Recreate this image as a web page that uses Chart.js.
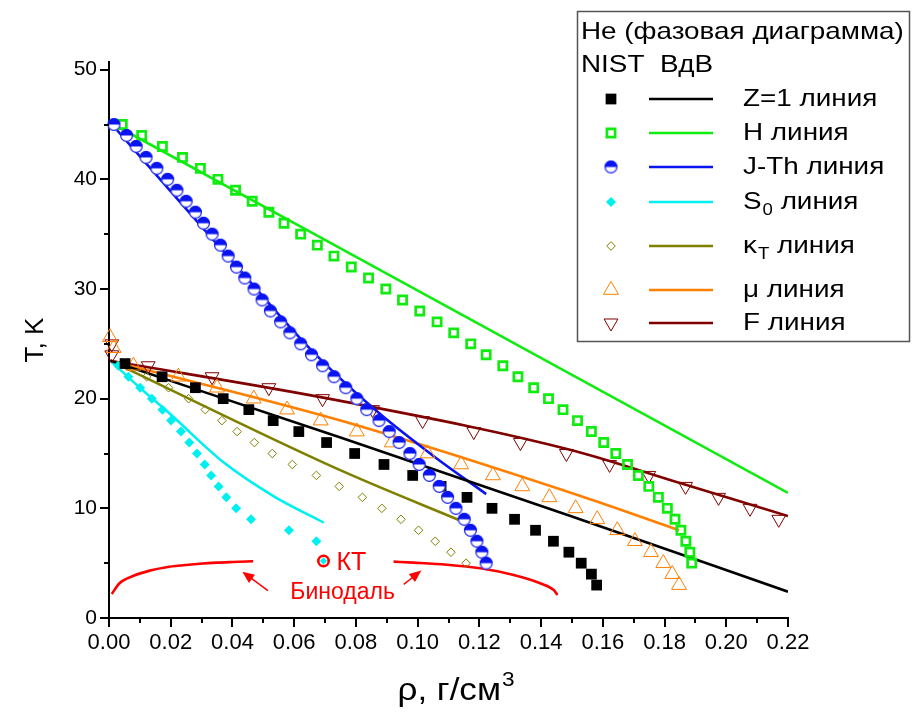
<!DOCTYPE html>
<html>
<head>
<meta charset="utf-8">
<script src="https://cdn.jsdelivr.net/npm/chart.js@4.4.1/dist/chart.umd.min.js"></script>
<style>
  html, body { margin: 0; padding: 0; background: #fff; }
  #wrap { width: 914px; height: 718px; }
</style>
</head>
<body>
<div id="wrap"><canvas id="chartFase" width="914" height="718"></canvas></div>
<script>
// He phase diagram: NIST points vs van der Waals lines
// rho in g/cm3, T in K

// Z=1 line
const z1Rho = [0.0052, 0.0172, 0.028, 0.037, 0.0453, 0.0532, 0.0615, 0.0705, 0.0796, 0.0891, 0.0984, 0.1076, 0.116, 0.1241, 0.1314, 0.1382, 0.144, 0.149, 0.153, 0.1563, 0.158];
const z1T = [23.2, 22, 21, 20, 19, 18, 17, 16, 15, 14, 13, 12, 11, 10, 9, 8, 7, 6, 5, 4, 3];
const z1LineRho = [0.0005, 0.075, 0.15, 0.22];
const z1LineT = [23.45, 16.45, 9.25, 2.4];

// H line
const hRho = [0.0043, 0.0106, 0.0173, 0.0238, 0.0296, 0.0353, 0.041, 0.0464, 0.0518, 0.0567, 0.0621, 0.0675, 0.0729, 0.0785, 0.0841, 0.0897, 0.0951, 0.1007, 0.1063, 0.1117, 0.1172, 0.1222, 0.1276, 0.1325, 0.1376, 0.1424, 0.1471, 0.1518, 0.1563, 0.1603, 0.1642, 0.168, 0.1715, 0.1749, 0.178, 0.1809, 0.1834, 0.1853, 0.1869, 0.1882, 0.1888];
const hT = [45, 44, 43, 42, 41, 40, 39, 38, 37, 36, 35, 34, 33, 32, 31, 30, 29, 28, 27, 26, 25, 24, 23, 22, 21, 20, 19, 18, 17, 16, 15, 14, 13, 12, 11, 10, 9, 8, 7, 6, 5];
const hLineRho = [0.0015, 0.22];
const hLineT = [45, 11.4];

// J-Th line
const jtRho = [0.0016, 0.0057, 0.0088, 0.012, 0.0155, 0.019, 0.022, 0.025, 0.028, 0.0306, 0.0334, 0.0361, 0.0386, 0.0413, 0.044, 0.047, 0.0496, 0.0523, 0.0556, 0.0586, 0.0621, 0.0656, 0.0692, 0.0729, 0.0767, 0.0803, 0.0835, 0.0875, 0.0908, 0.094, 0.0975, 0.1005, 0.1038, 0.107, 0.1097, 0.1124, 0.1151, 0.1171, 0.1192, 0.1208, 0.1222];
const jtT = [45, 44, 43, 42, 41, 40, 39, 38, 37, 36, 35, 34, 33, 32, 31, 30, 29, 28, 27, 26, 25, 24, 23, 22, 21, 20, 19, 18, 17, 16, 15, 14, 13, 12, 11, 10, 9, 8, 7, 6, 5];
const jtLineRho = [0.001, 0.02, 0.04, 0.0653, 0.087, 0.105, 0.1222];
const jtLineT = [45, 38.9, 32.5, 24.5, 18.8, 14.8, 11.3];

// S0 line
const s0Rho = [0.003, 0.0063, 0.0101, 0.0139, 0.0173, 0.0201, 0.0233, 0.026, 0.0285, 0.031, 0.0331, 0.0355, 0.038, 0.0412, 0.046, 0.0583, 0.0672];
const s0T = [23, 22, 21, 20, 19, 18, 17, 16, 15, 14, 13, 12, 11, 10, 9, 8, 7];
const s0LineRho = [0.0005, 0.01, 0.0198, 0.0371, 0.0534, 0.0696];
const s0LineT = [23.45, 21.0, 18.6, 14.2, 11.1, 8.7];

// kappa_T line
const kRho = [0.0058, 0.0122, 0.0193, 0.0258, 0.0312, 0.0366, 0.0415, 0.0471, 0.0529, 0.0594, 0.0672, 0.0746, 0.0821, 0.0884, 0.0946, 0.1003, 0.1057, 0.1108, 0.1157];
const kT = [23, 22, 21, 20, 19, 18, 17, 16, 15, 14, 13, 12, 11, 10, 9, 8, 7, 6, 5];
const kLineRho = [0.0005, 0.0751, 0.1157];
const kLineT = [23.45, 13.46, 8.67];

// mu line
const muRho = [0.0003, 0.0015, 0.0079, 0.0225, 0.035, 0.0469, 0.0577, 0.0686, 0.0803, 0.0916, 0.1032, 0.1141, 0.1244, 0.1339, 0.1427, 0.1512, 0.1582, 0.1647, 0.1704, 0.1756, 0.1796, 0.1825, 0.1847];
const muT = [25.6, 24.6, 23, 22, 21, 20, 19, 18, 17, 16, 15, 14, 13, 12, 11, 10, 9, 8, 7, 6, 5, 4, 3];
const muLineRho = [0.0005, 0.075, 0.153, 0.1847];
const muLineT = [23.45, 18.0, 11.1, 8.0];

// F line
const fRho = [0.0009, 0.0009, 0.0127, 0.0334, 0.0518, 0.0692, 0.0854, 0.1016, 0.1182, 0.1333, 0.1482, 0.1622, 0.1749, 0.1868, 0.1975, 0.2077, 0.217];
const fT = [25, 24, 23, 22, 21, 20, 19, 18, 17, 16, 15, 14, 13, 12, 11, 10, 9];
const fLineRho = [0.0005, 0.075, 0.15, 0.185, 0.22];
const fLineT = [23.45, 19.8, 15.3, 12.3, 9.3];

// binodal (two branches) and critical point
const binLeftRho = [0.0009, 0.0034, 0.0078, 0.0132, 0.0186, 0.024, 0.0294, 0.0348, 0.0402, 0.0467];
const binLeftT = [2.19, 3.17, 3.83, 4.32, 4.63, 4.81, 4.95, 5.05, 5.11, 5.17];
const binRightRho = [0.0922, 0.0987, 0.1095, 0.1203, 0.1311, 0.1397, 0.1441, 0.1453];
const binRightT = [5.14, 5.05, 4.86, 4.53, 3.92, 3.17, 2.55, 2.1];
const ktRho = [0.0695];
const ktT = [5.2];

// axis ticks
const xTickStep = 0.01;
const yTickStep = 5;

const textFont = '"Liberation Sans", Arial, sans-serif';

function pts(xs, ys) {
  return xs.map((x, i) => ({ x, y: ys[i] }));
}

// text wider than the plain font, as in the original figure
function fillStretched(ctx, text, x, y, sx, align) {
  ctx.save();
  ctx.translate(x, y);
  ctx.scale(sx, 1);
  ctx.textAlign = align || 'left';
  ctx.fillText(text, 0, 0);
  ctx.restore();
  return ctx.measureText(text).width * sx;
}

// half filled circle for J-Th markers
function halfCircle(d, color) {
  const c = document.createElement('canvas');
  c.width = d + 2;
  c.height = d + 2;
  const g = c.getContext('2d');
  const r = d / 2, cx = c.width / 2, cy = c.height / 2;
  g.fillStyle = '#fff';
  g.beginPath(); g.arc(cx, cy, r, 0, 2 * Math.PI); g.fill();
  g.fillStyle = color;
  g.beginPath(); g.arc(cx, cy, r, Math.PI, 2 * Math.PI); g.closePath(); g.fill();
  g.strokeStyle = color;
  g.lineWidth = 1.2;
  g.beginPath(); g.arc(cx, cy, r - 0.6, 0, 2 * Math.PI); g.stroke();
  return c;
}
const jtMarker = halfCircle(13, '#0a14f0');

function lineDs(label, xs, ys, color, order) {
  return {
    label, data: pts(xs, ys), showLine: true, borderColor: color, borderWidth: 2.6,
    pointRadius: 0, tension: 0.4, cubicInterpolationMode: 'monotone', fill: false, order
  };
}
function pointDs(label, xs, ys, style, order) {
  return Object.assign({
    label, data: pts(xs, ys), showLine: false, clip: false, order
  }, style);
}

const styles = {
  z1: { pointStyle: 'rect', pointRadius: 7.6, pointBackgroundColor: '#000', pointBorderColor: '#000', pointBorderWidth: 0 },
  h: { pointStyle: 'rect', pointRadius: 5.8, pointBackgroundColor: 'rgba(0,0,0,0)', pointBorderColor: '#10ec10', pointBorderWidth: 2.7 },
  jt: { pointStyle: jtMarker, pointRadius: 6.5, pointBackgroundColor: '#0a14f0', pointBorderColor: '#0a14f0', pointBorderWidth: 0 },
  s0: { pointStyle: 'rectRot', pointRadius: 5, pointBackgroundColor: '#00f0f0', pointBorderColor: '#00f0f0', pointBorderWidth: 0 },
  k: { pointStyle: 'rectRot', pointRadius: 4.3, pointBackgroundColor: 'rgba(0,0,0,0)', pointBorderColor: '#808000', pointBorderWidth: 1 },
  mu: { pointStyle: 'triangle', pointRadius: 8.6, pointBackgroundColor: 'rgba(0,0,0,0)', pointBorderColor: '#ff8000', pointBorderWidth: 1 },
  f: { pointStyle: 'triangle', pointRotation: 180, pointRadius: 8, pointBackgroundColor: 'rgba(0,0,0,0)', pointBorderColor: '#800000', pointBorderWidth: 1 }
};

const datasets = [
  lineDs('Z=1 ВдВ', z1LineRho, z1LineT, '#000000', 20),
  lineDs('H ВдВ', hLineRho, hLineT, '#10ec10', 20),
  lineDs('J-Th ВдВ', jtLineRho, jtLineT, '#0a14f0', 20),
  lineDs('S0 ВдВ', s0LineRho, s0LineT, '#00f0f0', 20),
  lineDs('kT ВдВ', kLineRho, kLineT, '#808000', 20),
  lineDs('mu ВдВ', muLineRho, muLineT, '#ff8000', 20),
  lineDs('F ВдВ', fLineRho, fLineT, '#800000', 20),
  lineDs('Бинодаль 1', binLeftRho, binLeftT, '#ff0000', 20),
  lineDs('Бинодаль 2', binRightRho, binRightT, '#ff0000', 20),
  pointDs('Z=1 NIST', z1Rho, z1T, styles.z1, 10),
  pointDs('H NIST', hRho, hT, styles.h, 10),
  pointDs('J-Th NIST', jtRho, jtT, styles.jt, 5),
  pointDs('S0 NIST', s0Rho, s0T, styles.s0, 10),
  pointDs('kT NIST', kRho, kT, styles.k, 10),
  pointDs('mu NIST', muRho, muT, styles.mu, 10),
  pointDs('F NIST', fRho, fT, styles.f, 10),
  pointDs('КТ', ktRho, ktT, { pointStyle: 'circle', pointRadius: 5.2, pointBackgroundColor: '#ffffff', pointBorderColor: '#ff0000', pointBorderWidth: 2.6 }, 3),
  pointDs('КТ S0', ktRho, ktT, { pointStyle: 'rectRot', pointRadius: 3.6, pointBackgroundColor: '#00f0f0', pointBorderColor: '#00f0f0', pointBorderWidth: 0 }, 2)
];

// legend rows: point dataset style + line colour
const legendRows = [
  { style: styles.z1, color: '#000000', base: 'Z=1', sub: '', rest: ' линия' },
  { style: styles.h, color: '#10ec10', base: 'H', sub: '', rest: ' линия' },
  { style: styles.jt, color: '#0a14f0', base: 'J-Th', sub: '', rest: ' линия' },
  { style: styles.s0, color: '#00f0f0', base: 'S', sub: '0', rest: ' линия' },
  { style: styles.k, color: '#808000', base: 'κ', sub: 'T', rest: ' линия' },
  { style: styles.mu, color: '#ff8000', base: 'μ', sub: '', rest: ' линия' },
  { style: styles.f, color: '#800000', base: 'F', sub: '', rest: ' линия' }
];
const legendRowY = [99, 133, 167, 202, 246, 290, 323];
const legendStretch = 1.16;

// ticks: major with label, minor without
const tickPlugin = {
  id: 'axisTicks',
  afterDraw(chart) {
    const { ctx, chartArea } = chart;
    const x = chart.scales.x, y = chart.scales.y;
    ctx.save();
    ctx.strokeStyle = '#000';
    ctx.lineWidth = 2;
    ctx.beginPath();
    x.ticks.forEach(t => {
      const px = Math.round(x.getPixelForValue(t.value));
      const len = t.label ? 9 : 5;
      ctx.moveTo(px, chartArea.bottom);
      ctx.lineTo(px, chartArea.bottom + len);
    });
    y.ticks.forEach(t => {
      const py = Math.round(y.getPixelForValue(t.value));
      const len = t.label ? 9 : 5;
      ctx.moveTo(chartArea.left, py);
      ctx.lineTo(chartArea.left - len, py);
    });
    ctx.stroke();

    // x axis title with superscript
    ctx.fillStyle = '#000';
    ctx.textBaseline = 'alphabetic';
    ctx.font = '31px ' + textFont;
    const sx = 1.13;
    const main = 'ρ, г/см';
    ctx.font = '20px ' + textFont;
    const supW = ctx.measureText('3').width * sx;
    ctx.font = '31px ' + textFont;
    const mainW = ctx.measureText(main).width * sx;
    const cx = (chartArea.left + chartArea.right) / 2 + 7;
    const x0 = cx - (mainW + supW) / 2;
    fillStretched(ctx, main, x0, 700, sx, 'left');
    ctx.font = '20px ' + textFont;
    fillStretched(ctx, '3', x0 + mainW + 1, 686, sx, 'left');
    ctx.restore();
  }
};

function drawArrow(ctx, x0, y0, x1, y1) {
  const a = Math.atan2(y1 - y0, x1 - x0);
  const hl = 12, hw = 5;
  ctx.beginPath();
  ctx.moveTo(x0, y0);
  ctx.lineTo(x1 - Math.cos(a) * hl * 0.8, y1 - Math.sin(a) * hl * 0.8);
  ctx.stroke();
  ctx.beginPath();
  ctx.moveTo(x1, y1);
  ctx.lineTo(x1 - Math.cos(a) * hl + Math.sin(a) * hw, y1 - Math.sin(a) * hl - Math.cos(a) * hw);
  ctx.lineTo(x1 - Math.cos(a) * hl - Math.sin(a) * hw, y1 - Math.sin(a) * hl + Math.cos(a) * hw);
  ctx.closePath();
  ctx.fill();
}

// annotations in data units
const arrowsData = [
  { from: [0.0515, 2.49], to: [0.0432, 4.22] },
  { from: [0.0955, 3.07], to: [0.1012, 4.32] }
];
const labelsData = [
  { text: 'КТ', at: [0.0737, 5.0], align: 'left', size: 25 },
  { text: 'Бинодаль', at: [0.0757, 2.3], align: 'center', size: 23 }
];

const notesPlugin = {
  id: 'notes',
  afterDatasetsDraw(chart) {
    const { ctx } = chart;
    const x = chart.scales.x, y = chart.scales.y;
    ctx.save();
    ctx.strokeStyle = '#ff0000';
    ctx.fillStyle = '#ff0000';
    ctx.lineWidth = 1.5;
    arrowsData.forEach(a => {
      drawArrow(ctx, x.getPixelForValue(a.from[0]), y.getPixelForValue(a.from[1]),
        x.getPixelForValue(a.to[0]), y.getPixelForValue(a.to[1]));
    });
    ctx.textBaseline = 'middle';
    labelsData.forEach(l => {
      ctx.font = l.size + 'px ' + textFont;
      ctx.textAlign = l.align;
      ctx.fillText(l.text, x.getPixelForValue(l.at[0]), y.getPixelForValue(l.at[1]));
    });
    ctx.restore();
  }
};

const legendPlugin = {
  id: 'faseLegend',
  afterDraw(chart) {
    const ctx = chart.ctx;
    const sx = legendStretch;
    ctx.save();
    ctx.fillStyle = '#fff';
    ctx.fillRect(577, 11, 333, 331);
    ctx.strokeStyle = '#555';
    ctx.lineWidth = 1.5;
    ctx.strokeRect(577.5, 11.5, 332, 330);
    ctx.fillStyle = '#000';
    ctx.textBaseline = 'middle';
    ctx.font = '24px ' + textFont;
    fillStretched(ctx, 'He (фазовая диаграмма)', 581, 32, sx);
    fillStretched(ctx, 'NIST', 581, 65, sx);
    fillStretched(ctx, 'ВдВ', 660, 65, sx);
    legendRows.forEach((row, i) => {
      const yy = legendRowY[i];
      const s = row.style;
      ctx.save();
      ctx.fillStyle = s.pointBackgroundColor;
      ctx.strokeStyle = s.pointBorderColor;
      ctx.lineWidth = s.pointBorderWidth;
      Chart.helpers.drawPoint(ctx, {
        pointStyle: s.pointStyle, radius: s.pointRadius,
        borderWidth: s.pointBorderWidth, rotation: s.pointRotation || 0
      }, 611, yy);
      ctx.restore();
      ctx.strokeStyle = row.color;
      ctx.lineWidth = 2.6;
      ctx.beginPath();
      ctx.moveTo(649, yy);
      ctx.lineTo(713, yy);
      ctx.stroke();
      ctx.fillStyle = '#000';
      ctx.font = '24px ' + textFont;
      let tx = 743;
      tx += fillStretched(ctx, row.base, tx, yy, sx);
      if (row.sub) {
        ctx.font = '16px ' + textFont;
        tx += fillStretched(ctx, row.sub, tx + 1, yy + 9, sx) + 1;
        ctx.font = '24px ' + textFont;
      }
      fillStretched(ctx, row.rest, tx, yy, sx);
    });
    ctx.restore();
  }
};

new Chart(document.getElementById('chartFase'), {
  type: 'scatter',
  data: { datasets },
  options: {
    responsive: false,
    devicePixelRatio: 1,
    animation: false,
    events: [],
    layout: { padding: { left: 0, right: 126, top: 62, bottom: 0 } },
    plugins: { legend: { display: false }, tooltip: { enabled: false } },
    scales: {
      x: {
        type: 'linear', min: 0, max: 0.22,
        grid: { display: false, drawTicks: false },
        border: { display: true, color: '#000', width: 2 },
        ticks: {
          stepSize: xTickStep, autoSkip: false, maxRotation: 0, padding: 12,
          color: '#000', font: { family: textFont, size: 22 },
          callback: v => (Math.round(v * 100) % 2 === 0 ? v.toFixed(2) : '')
        },
        afterFit: s => { s.height = 100; }
      },
      y: {
        type: 'linear', min: 0, max: 50.7,
        grid: { display: false, drawTicks: false },
        border: { display: true, color: '#000', width: 2 },
        ticks: {
          stepSize: yTickStep, autoSkip: false, padding: 12, includeBounds: false,
          color: '#000', font: { family: textFont, size: 21 },
          callback: v => (v % 10 === 0 ? String(v) : '')
        },
        title: { display: true, text: 'T, K', color: '#000', font: { family: textFont, size: 26 }, padding: { top: 20, bottom: 20 } },
        afterFit: s => { s.width = 109; }
      }
    }
  },
  plugins: [tickPlugin, notesPlugin, legendPlugin]
});
</script>
</body>
</html>
